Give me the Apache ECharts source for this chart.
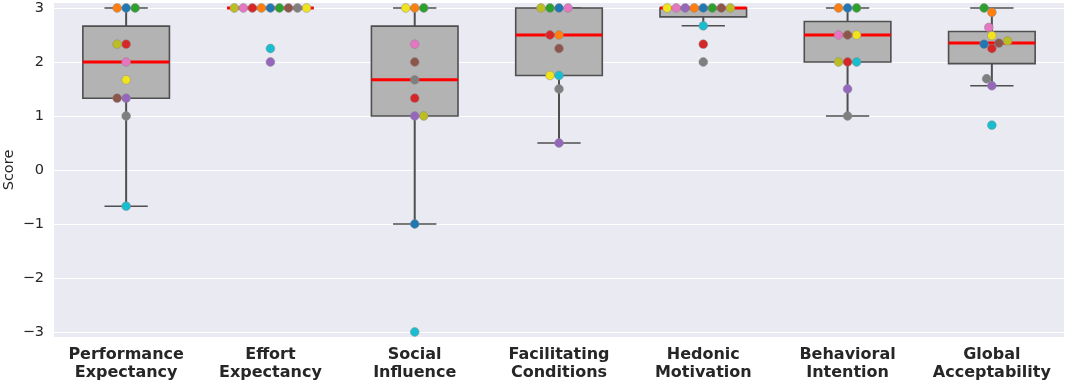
<!DOCTYPE html>
<html>
<head>
<meta charset="utf-8">
<script src="https://cdn.jsdelivr.net/npm/echarts@6/dist/echarts.min.js"></script>
<style>
html,body{margin:0;padding:0;background:#fff;}
#chart{width:1065px;height:383px;}
</style>
</head>
<body>
<div id="chart"></div>
<script>
// ---- Data ----
const categories = ['Performance\nExpectancy', 'Effort\nExpectancy', 'Social\nInfluence', 'Facilitating\nConditions', 'Hedonic\nMotivation', 'Behavioral\nIntention', 'Global\nAcceptability'];
// participants (one colour each): blue, orange, green, red, purple, brown, pink, gray, olive, cyan, yellow
const participantColors = ['#1f77b4', '#ff7f0e', '#2ca02c', '#d62728', '#9467bd', '#8c564b', '#e377c2', '#7f7f7f', '#bcbd22', '#17becf', '#f2e41c'];
const performanceExpectancy  = [3, 3, 3, 2.33, 1.33, 1.33, 2, 1, 2.33, -0.67, 1.67];
const effortExpectancy       = [3, 3, 3, 3, 2, 3, 3, 3, 3, 2.25, 3];
const socialInfluence        = [-1, 3, 3, 1.33, 1, 2, 2.33, 1.67, 1, -3, 3];
const facilitatingConditions = [3, 2.5, 3, 2.5, 0.5, 2.25, 3, 1.5, 3, 1.75, 1.75];
const hedonicMotivation      = [3, 3, 3, 2.33, 3, 3, 3, 2, 3, 2.67, 3];
const behavioralIntention    = [3, 3, 3, 2, 1.5, 2.5, 2.5, 1, 2, 2, 2.5];
const globalAcceptability    = [2.33, 2.92, 3, 2.25, 1.56, 2.35, 2.64, 1.69, 2.39, 0.83, 2.49];
const scoreSets = [performanceExpectancy, effortExpectancy, socialInfluence, facilitatingConditions, hedonicMotivation, behavioralIntention, globalAcceptability];
const yTicks = [-3, -2, -1, 0, 1, 2, 3];

// swarm tie-break side per column (layout setting, mirrors the reference's dodge direction)
const swarmTieRight = [false, false, true, false, false, false, false];

// ---- Box statistics (numpy-style linear quantiles, 1.5 IQR whiskers) ----
function quantile(sorted, q) {
  const pos = (sorted.length - 1) * q;
  const lo = Math.floor(pos), hi = Math.ceil(pos);
  return sorted[lo] + (sorted[hi] - sorted[lo]) * (pos - lo);
}
function boxStats(vals) {
  const s = vals.slice().sort((a, b) => a - b);
  const q1 = quantile(s, 0.25), med = quantile(s, 0.5), q3 = quantile(s, 0.75);
  const iqr = q3 - q1;
  const loLim = q1 - 1.5 * iqr, hiLim = q3 + 1.5 * iqr;
  const wlo = Math.min(...s.filter(v => v >= loLim));
  const whi = Math.max(...s.filter(v => v <= hiLim));
  return [q1, med, q3, wlo, whi];
}
const boxData = scoreSets.map((vals, i) => [i].concat(boxStats(vals)));

const pointData = [];
scoreSets.forEach((vals, c) => vals.forEach((v, p) => pointData.push([c, v, p])));

// ---- Swarm layout (seaborn-like beeswarm in pixel space) ----
const R = 4.3;
function beeswarm(pts, tieDir) {
  const sorted = pts.slice().sort((a, b) => (b.y - a.y) || (a.idx - b.idx));
  const mid = sorted[0].x;
  const swarm = [];
  const out = {};
  sorted.forEach(p => {
    const neighbors = [];
    for (let j = swarm.length - 1; j >= 0; j--) {
      const q = swarm[j];
      if (q.y - p.y < 2 * R) neighbors.push(q); else break;
    }
    let cands = [mid];
    let leftFirst = true;
    neighbors.forEach(n => {
      const dy = n.y - p.y;
      const dx = Math.sqrt(Math.max(4 * R * R - dy * dy, 0)) * 1.05;
      const cl = n.x - dx, cr = n.x + dx;
      if (leftFirst) cands.push(cl, cr); else cands.push(cr, cl);
      leftFirst = !leftFirst;
    });
    cands = cands.map((c, k) => ({c, k, off: Math.round(Math.abs(c - mid) * 1000)}))
      .sort((a, b) => (a.off - b.off) || ((a.c - b.c) * tieDir) || (a.k - b.k));
    let chosen = mid;
    for (const cd of cands) {
      let ok = true;
      for (const n of neighbors) {
        const dx = cd.c - n.x, dy = n.y - p.y;
        if (dx * dx + dy * dy < 4 * R * R - 1e-6) { ok = false; break; }
      }
      if (ok) { chosen = cd.c; break; }
    }
    swarm.push({x: chosen, y: p.y, idx: p.idx});
    out[p.idx] = chosen - mid;
  });
  return out;
}
const swarmCache = {};
function getOffsets(cat, api) {
  const key = api.coord([cat, 0]).join(',') + '|' + api.coord([cat, 1])[1];
  if (swarmCache[cat] && swarmCache[cat].key === key) return swarmCache[cat].offs;
  const pts = scoreSets[cat].map((v, i) => { const c = api.coord([cat, v]); return {x: c[0], y: c[1], idx: i}; });
  const offs = beeswarm(pts, swarmTieRight[cat] ? -1 : 1);
  swarmCache[cat] = {key, offs};
  return offs;
}

const EDGE = '#4f4f4f';
const chart = echarts.init(document.getElementById('chart'), null, {renderer: 'canvas'});
chart.setOption({
  animation: false,
  backgroundColor: '#ffffff',
  textStyle: {fontFamily: 'DejaVu Sans'},
  grid: {left: 54, right: 1, top: 2.6, bottom: 45.6, show: true, backgroundColor: '#EAEAF2', borderWidth: 0,
         containLabel: false, outerBoundsMode: 'none'},
  xAxis: {
    type: 'category',
    data: categories,
    axisLine: {show: false},
    axisTick: {show: false},
    splitLine: {show: false},
    axisLabel: {fontFamily: 'DejaVu Sans', fontWeight: 'bold', fontSize: 16, color: '#262626', lineHeight: 18.5, margin: 8, interval: 0}
  },
  yAxis: {
    type: 'value',
    min: -3.1,
    max: 3.1,
    name: 'Score',
    nameLocation: 'middle',
    nameGap: 37,
    nameMoveOverlap: false,
    nameTextStyle: {fontFamily: 'DejaVu Sans', fontSize: 14.5, color: '#262626'},
    axisLine: {show: false},
    axisTick: {show: false},
    splitLine: {lineStyle: {color: '#ffffff', width: 1.2}},
    axisLabel: {
      fontFamily: 'DejaVu Sans', fontSize: 14.5, color: '#262626', margin: 10,
      showMinLabel: false, showMaxLabel: false,
      formatter: v => yTicks.indexOf(v) >= 0 ? (v < 0 ? '\u2212' + (-v) : String(v)) : ''
    }
  },
  series: [
    {
      type: 'custom',
      data: boxData,
      z: 2,
      renderItem: (params, api) => {
        const cat = api.value(0);
        const q1 = api.value(1), med = api.value(2), q3 = api.value(3), wlo = api.value(4), whi = api.value(5);
        const band = api.size([1, 0])[0];
        const cx = api.coord([cat, 0])[0];
        const hw = band * 0.3, cw = band * 0.15;
        const yq1 = api.coord([cat, q1])[1], yq3 = api.coord([cat, q3])[1];
        const ymed = api.coord([cat, med])[1];
        const ylo = api.coord([cat, wlo])[1], yhi = api.coord([cat, whi])[1];
        const lineStyle = {stroke: EDGE, lineWidth: 2, fill: null};
        return {
          type: 'group',
          children: [
            {type: 'line', shape: {x1: cx, y1: yq3, x2: cx, y2: yhi}, style: lineStyle},
            {type: 'line', shape: {x1: cx, y1: yq1, x2: cx, y2: ylo}, style: lineStyle},
            {type: 'line', shape: {x1: cx - cw, y1: yhi, x2: cx + cw, y2: yhi}, style: {stroke: EDGE, lineWidth: 1.5}},
            {type: 'line', shape: {x1: cx - cw, y1: ylo, x2: cx + cw, y2: ylo}, style: {stroke: EDGE, lineWidth: 1.5}},
            {type: 'rect', shape: {x: cx - hw, y: yq3, width: hw * 2, height: yq1 - yq3}, style: {fill: '#b3b3b3', stroke: EDGE, lineWidth: 1.6}},
            {type: 'line', shape: {x1: cx - hw, y1: ymed, x2: cx + hw, y2: ymed}, style: {stroke: '#ff0000', lineWidth: 3}}
          ]
        };
      }
    },
    {
      type: 'custom',
      data: pointData,
      z: 5,
      renderItem: (params, api) => {
        const cat = api.value(0), v = api.value(1), p = api.value(2);
        const offs = getOffsets(cat, api);
        const c = api.coord([cat, v]);
        return {
          type: 'circle',
          shape: {cx: c[0] + offs[p], cy: c[1], r: 4.4},
          style: {fill: participantColors[p], stroke: '#8a8a8a', lineWidth: 0.5}
        };
      }
    }
  ]
});
</script>
</body>
</html>
